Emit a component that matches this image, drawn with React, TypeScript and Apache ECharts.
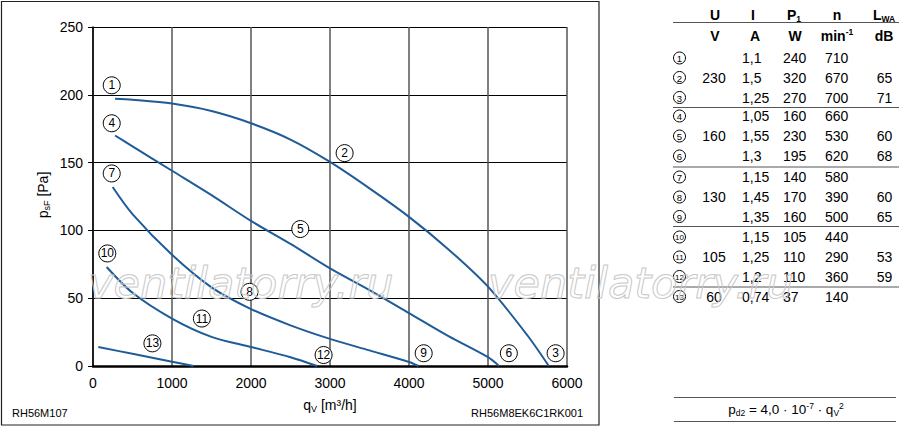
import { useEffect, useRef } from "react";
import * as echarts from "echarts";

// fan curves: [qV m³/h, psF Pa]
const curve123: [number, number][] = [
  [279, 197], [500, 196.3], [1000, 193.5], [1500, 188], [2000, 179], [2500, 167],
  [3000, 150.5], [3500, 131], [4000, 110], [4500, 86], [5000, 58.5], [5500, 22.5], [5770, 0],
];
const curve456: [number, number][] = [
  [279, 170], [500, 162], [1000, 144], [1500, 126], [2000, 107], [2500, 90],
  [3000, 72], [3500, 56], [4000, 39], [4500, 22], [5000, 6.5], [5140, 0],
];
const curve789: [number, number][] = [
  [249, 132], [500, 112], [1000, 82], [1500, 58], [2000, 42], [2500, 30],
  [3000, 20], [3500, 11.5], [4000, 3], [4120, 0],
];
const curve101112: [number, number][] = [
  [173, 73], [500, 54], [1000, 35], [1500, 21.5], [2000, 14], [2500, 6.5], [2835, 0],
];
const curve13: [number, number][] = [
  [67, 14], [500, 9], [1000, 3.2], [1271, 0],
];

const labelNumbers = ["1", "2", "3", "4", "5", "6", "7", "8", "9", "10", "11", "12", "13"];
const labelPoints: [number, number][] = [
  [237, 207], [3185, 157], [5856, 9.4], [237, 179], [2624, 101], [5264, 9.4],
  [237, 142], [1981, 54.7], [4186, 9.4], [181, 83], [1378, 35], [2919, 8.1], [752, 16.7],
];

// table
const colU = ["", "230", "", "", "160", "", "", "130", "", "", "105", "", "60"];
const colI = ["1,1", "1,5", "1,25", "1,05", "1,55", "1,3", "1,15", "1,45", "1,35", "1,15", "1,25", "1,2", "0,74"];
const colP1 = ["240", "320", "270", "160", "230", "195", "140", "170", "160", "105", "110", "110", "37"];
const colN = ["710", "670", "700", "660", "530", "620", "580", "390", "500", "440", "290", "360", "140"];
const colLwa = ["", "65", "71", "", "60", "68", "", "60", "65", "", "53", "59", ""];
const rowY = [58, 77.5, 97.5, 116, 136, 156, 177, 197, 216.5, 237, 257, 276.5, 296.5];
const groupLineY = [22.5, 107.5, 167, 226.5, 287];

const FONT = "'Liberation Sans', Arial, sans-serif";
const BLUE = "#1f5b98";

function App() {
  const chartRef = useRef<HTMLDivElement>(null);

  useEffect(() => {
    if (!chartRef.current) return;
    const chart = echarts.init(chartRef.current, null, { renderer: "svg" });

    const txt = (x: number, y: number, text: string, align: string, extra: any = {}) => ({
      type: "text",
      x,
      y,
      style: {
        text,
        align,
        verticalAlign: "middle",
        fontFamily: FONT,
        fontSize: 14,
        fill: "#000",
        ...extra,
      },
    });

    const boldRich = (supAlign: string) => ({
      a: { fontFamily: FONT, fontWeight: "bold", fontSize: 14, lineHeight: 17 },
      s: { fontFamily: FONT, fontWeight: "bold", fontSize: 8.5, verticalAlign: supAlign, lineHeight: 12 },
    });

    const table: any[] = [];
    groupLineY.forEach((y) => {
      table.push({ type: "line", shape: { x1: 673, y1: y, x2: 899, y2: y }, style: { stroke: "#555", lineWidth: 1 } });
    });
    const bold = { fontWeight: "bold", fontSize: 14 };
    table.push(txt(715, 15, "U", "center", bold));
    table.push(txt(753, 15, "I", "center", bold));
    table.push(txt(794, 15, "{a|P}{s|1}", "center", { ...bold, rich: boldRich("bottom") }));
    table.push(txt(837, 15, "n", "center", bold));
    table.push(txt(884, 15, "{a|L}{s|WA}", "center", { ...bold, rich: boldRich("bottom") }));
    table.push(txt(715, 36, "V", "center", bold));
    table.push(txt(755, 36, "A", "center", bold));
    table.push(txt(795, 36, "W", "center", bold));
    table.push(txt(837, 36, "{a|min}{s|-1}", "center", { ...bold, rich: boldRich("top") }));
    table.push(txt(884, 36, "dB", "center", bold));

    rowY.forEach((y, i) => {
      table.push({ type: "circle", shape: { cx: 679.5, cy: y, r: 6 }, style: { fill: "#fff", stroke: "#000", lineWidth: 1 } });
      table.push(txt(679.5, y + 0.5, labelNumbers[i], "center", { fontSize: i >= 9 ? 8 : 9.5 }));
      if (colU[i]) table.push(txt(714, y, colU[i], "center"));
      table.push(txt(742, y, colI[i], "left"));
      table.push(txt(783, y, colP1[i], "left"));
      table.push(txt(825, y, colN[i], "left"));
      if (colLwa[i]) table.push(txt(884.5, y, colLwa[i], "center"));
    });

    // formula box
    table.push({ type: "line", shape: { x1: 674, y1: 397.5, x2: 896, y2: 397.5 }, style: { stroke: "#555", lineWidth: 1 } });
    table.push({ type: "line", shape: { x1: 674, y1: 421.5, x2: 896, y2: 421.5 }, style: { stroke: "#555", lineWidth: 1 } });
    table.push(
      txt(786, 409, "{a|p}{s|d2}{a| = 4,0 · 10}{u|-7}{a| · q}{s|V}{u|2}", "center", {
        rich: {
          a: { fontFamily: FONT, fontSize: 13.5, lineHeight: 16 },
          s: { fontFamily: FONT, fontSize: 8.5, verticalAlign: "bottom", lineHeight: 11 },
          u: { fontFamily: FONT, fontSize: 8.5, verticalAlign: "top", lineHeight: 11 },
        },
      })
    );

    const watermark = (x: number) => ({
      type: "text",
      x,
      y: 283,
      z: 50,
      silent: true,
      style: {
        text: "ventilatorry.ru",
        align: "left",
        verticalAlign: "middle",
        fontFamily: "'DejaVu Sans', sans-serif",
        fontStyle: "italic",
        fontSize: 43,
        fill: "none",
        stroke: "#c8c8c8",
        lineWidth: 1,
      },
    });

    const curveSeries = (data: [number, number][]) => ({
      type: "line",
      data,
      smooth: 0.3,
      showSymbol: false,
      symbol: "none",
      lineStyle: { color: BLUE, width: 2 },
      z: 3,
    });

    chart.setOption({
      animation: false,
      backgroundColor: "#fff",
      grid: { left: 93, top: 27, width: 474, height: 339 },
      xAxis: {
        type: "value",
        min: 0,
        max: 6000,
        interval: 1000,
        axisLine: { show: true, onZero: false, lineStyle: { color: "#000", width: 2.5 } },
        axisTick: { show: false },
        axisLabel: {
          color: "#000",
          fontFamily: FONT,
          fontSize: 14,
          margin: 10,
          formatter: (v: number) => String(v),
        },
        splitLine: { show: true, lineStyle: { color: "#555", width: 1.5 } },
      },
      yAxis: {
        type: "value",
        min: 0,
        max: 250,
        interval: 50,
        axisLine: { show: true, lineStyle: { color: "#000", width: 1.5 } },
        axisTick: { show: true, length: 5, lineStyle: { color: "#000", width: 1 } },
        axisLabel: { color: "#000", fontFamily: FONT, fontSize: 14, margin: 10 },
        splitLine: { show: true, lineStyle: { color: "#000", width: 1 } },
      },
      series: [
        curveSeries(curve123),
        curveSeries(curve456),
        curveSeries(curve789),
        curveSeries(curve101112),
        curveSeries(curve13),
        {
          type: "scatter",
          data: labelPoints.map((p, i) => ({ value: p, name: labelNumbers[i] })),
          symbol: "circle",
          symbolSize: 17,
          itemStyle: { color: "#fff", borderColor: "#000", borderWidth: 1, opacity: 1 },
          label: {
            show: true,
            position: "inside",
            formatter: "{b}",
            color: "#000",
            fontFamily: FONT,
            fontSize: 12,
          },
          z: 5,
        },
      ],
      graphic: [
        {
          type: "rect",
          shape: { x: 1.5, y: 1.5, width: 597.5, height: 423.5 },
          style: { fill: "none", stroke: "#222", lineWidth: 1.2 },
          silent: true,
        },
        {
          type: "text",
          x: 43,
          y: 195,
          rotation: Math.PI / 2,
          style: {
            text: "{a|p}{s|sF}{a| [Pa]}",
            align: "center",
            verticalAlign: "middle",
            rich: {
              a: { fontFamily: FONT, fontSize: 14, lineHeight: 17 },
              s: { fontFamily: FONT, fontSize: 9, verticalAlign: "bottom", lineHeight: 12 },
            },
          },
        },
        {
          type: "text",
          x: 330,
          y: 405,
          style: {
            text: "{a|q}{s|V}{a| [m³/h]}",
            align: "center",
            verticalAlign: "middle",
            rich: {
              a: { fontFamily: FONT, fontSize: 14, lineHeight: 17 },
              s: { fontFamily: FONT, fontSize: 9, verticalAlign: "bottom", lineHeight: 12 },
            },
          },
        },
        txt(12, 413, "RH56M107", "left", { fontSize: 11 }),
        txt(583, 413, "RH56M8EK6C1RK001", "right", { fontSize: 11 }),
        ...table,
        watermark(88),
        watermark(488),
      ],
    });

    return () => {
      chart.dispose();
    };
  }, []);

  return (
    <div
      ref={chartRef}
      style={{ position: "fixed", left: 0, top: 0, width: "900px", height: "429px", background: "#fff" }}
    />
  );
}

export default App;
